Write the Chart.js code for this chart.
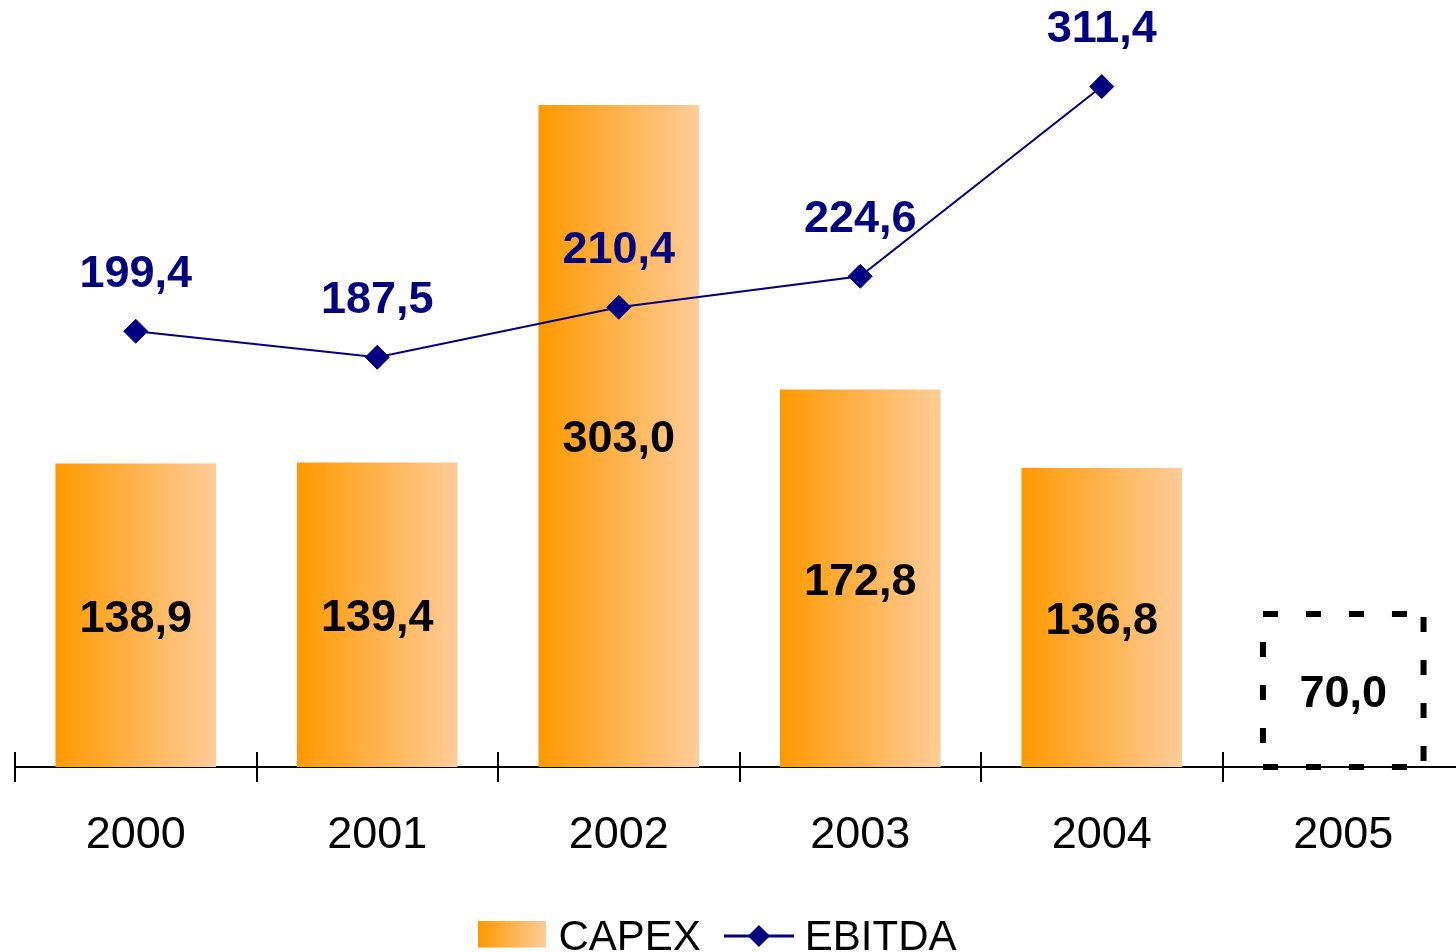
<!DOCTYPE html>
<html>
<head>
<meta charset="utf-8">
<script src="https://cdn.jsdelivr.net/npm/chart.js@4.4.1/dist/chart.umd.min.js"></script>
<style>
  html, body { margin: 0; padding: 0; background: #fff; overflow: hidden; }
  canvas { display: block; }
</style>
</head>
<body>
<canvas id="chart" width="1464" height="969"></canvas>
<script>
const years = ['2000', '2001', '2002', '2003', '2004', '2005'];
const capex = [138.9, 139.4, 303.0, 172.8, 136.8, 70.0];
const ebitda = [199.4, 187.5, 210.4, 224.6, 311.4, null];
const plannedIndex = 5; // 2005 is drawn as an empty dashed box

const NAVY = '#000080';
const ORANGE_L = '#FF9900';
const ORANGE_R = '#FFCC99';
const FONT = "'Liberation Sans', Arial, sans-serif";

const fmt = v => v.toFixed(1).replace('.', ',');

function barGradient(ctx, left, right) {
  const g = ctx.createLinearGradient(left, 0, right, 0);
  g.addColorStop(0, ORANGE_L);
  g.addColorStop(1, ORANGE_R);
  return g;
}

// legend icons (a bit of empty space at the bottom lifts them to the text's cap centre)
const capexIcon = document.createElement('canvas');
capexIcon.width = 68;
capexIcon.height = 35;
(() => {
  const c = capexIcon.getContext('2d');
  c.fillStyle = barGradient(c, 0, 68);
  c.fillRect(0, 0, 68, 27);
})();

const ebitdaIcon = document.createElement('canvas');
ebitdaIcon.width = 70;
ebitdaIcon.height = 30;
(() => {
  const c = ebitdaIcon.getContext('2d');
  c.strokeStyle = NAVY;
  c.lineWidth = 3;
  c.beginPath();
  c.moveTo(0, 13);
  c.lineTo(70, 13);
  c.stroke();
  c.fillStyle = NAVY;
  c.beginPath();
  c.moveTo(35, 2);
  c.lineTo(46, 13);
  c.lineTo(35, 24);
  c.lineTo(24, 13);
  c.closePath();
  c.fill();
})();

// tick marks above the axis line at category boundaries
const axisTicksUp = {
  id: 'axisTicksUp',
  afterDraw(chart) {
    const { ctx, chartArea, scales } = chart;
    const x = scales.x;
    const step = x.width / years.length;
    ctx.save();
    ctx.strokeStyle = '#000';
    ctx.lineWidth = 2;
    for (let i = 0; i <= years.length; i++) {
      const px = Math.round(x.left + i * step);
      ctx.beginPath();
      ctx.moveTo(px, chartArea.bottom - 15);
      ctx.lineTo(px, chartArea.bottom);
      ctx.stroke();
    }
    ctx.restore();
  }
};

// dashed box for the planned year + value labels
const valueLabels = {
  id: 'valueLabels',
  afterDatasetsDraw(chart) {
    const { ctx } = chart;
    const bars = chart.getDatasetMeta(0).data;
    const pts = chart.getDatasetMeta(1).data;

    const pb = bars[plannedIndex];
    if (pb) {
      const l = pb.x - pb.width / 2;
      const r = pb.x + pb.width / 2;
      ctx.save();
      ctx.strokeStyle = '#000';
      ctx.lineWidth = 6;
      ctx.setLineDash([15, 28]);
      ctx.beginPath(); ctx.moveTo(l, pb.y); ctx.lineTo(r, pb.y); ctx.stroke();
      ctx.beginPath(); ctx.moveTo(r, pb.y + 3); ctx.lineTo(r, pb.base); ctx.stroke();
      ctx.beginPath(); ctx.moveTo(l, pb.base); ctx.lineTo(r, pb.base); ctx.stroke();
      ctx.lineDashOffset = -28;
      ctx.beginPath(); ctx.moveTo(l, pb.y); ctx.lineTo(l, pb.base); ctx.stroke();
      ctx.restore();
    }

    ctx.save();
    ctx.textAlign = 'center';
    ctx.textBaseline = 'middle';
    ctx.font = 'bold 45px ' + FONT;
    ctx.fillStyle = '#000';
    bars.forEach((b, i) => {
      ctx.fillText(fmt(capex[i]), b.x, (b.y + b.base) / 2 + 4);
    });
    ctx.fillStyle = NAVY;
    pts.forEach((p, i) => {
      if (ebitda[i] == null) return;
      ctx.fillText(fmt(ebitda[i]), p.x, p.y - 57);
    });
    ctx.restore();
  }
};

new Chart(document.getElementById('chart'), {
  data: {
    labels: years,
    datasets: [
      {
        type: 'bar',
        label: 'CAPEX',
        data: capex,
        order: 2,
        barPercentage: 0.665,
        categoryPercentage: 1,
        borderWidth: 0,
        backgroundColor: (c) => {
          if (c.dataIndex === plannedIndex) return 'rgba(0,0,0,0)';
          const chart = c.chart;
          if (!chart.chartArea) return ORANGE_L;
          const x = chart.scales.x;
          const cx = x.getPixelForValue(c.dataIndex);
          const w = x.width / years.length * 0.665;
          return barGradient(chart.ctx, cx - w / 2, cx + w / 2);
        }
      },
      {
        type: 'line',
        label: 'EBITDA',
        data: ebitda,
        order: 1,
        borderColor: NAVY,
        borderWidth: 2,
        backgroundColor: NAVY,
        pointStyle: 'rectRot',
        pointRadius: 12,
        pointBorderWidth: 1,
        pointBackgroundColor: NAVY,
        pointBorderColor: NAVY,
        tension: 0,
        clip: false
      }
    ]
  },
  options: {
    responsive: false,
    animation: false,
    layout: { autoPadding: false, padding: { left: 15, right: 0, top: 0, bottom: 0 } },
    scales: {
      x: {
        offset: true,
        grid: {
          offset: true,
          drawOnChartArea: false,
          drawTicks: true,
          tickLength: 15,
          color: '#000',
          lineWidth: 2
        },
        border: { display: true, color: '#000', width: 2 },
        ticks: {
          color: '#000',
          padding: 27,
          font: { family: FONT, size: 45 }
        },
        afterFit: (scale) => { scale.height = 117; }
      },
      y: {
        display: false,
        min: 0,
        max: 351
      }
    },
    plugins: {
      tooltip: { enabled: false },
      legend: {
        position: 'bottom',
        labels: {
          usePointStyle: true,
          pointStyleWidth: 50,
          padding: 33,
          color: '#000',
          font: { family: FONT, size: 42 },
          generateLabels: () => [
            { text: 'CAPEX', pointStyle: capexIcon, fontColor: '#000', lineWidth: 0, datasetIndex: 0 },
            { text: 'EBITDA   ', pointStyle: ebitdaIcon, fontColor: '#000', lineWidth: 0, datasetIndex: 1 }
          ]
        }
      }
    }
  },
  plugins: [axisTicksUp, valueLabels]
});
</script>
</body>
</html>
